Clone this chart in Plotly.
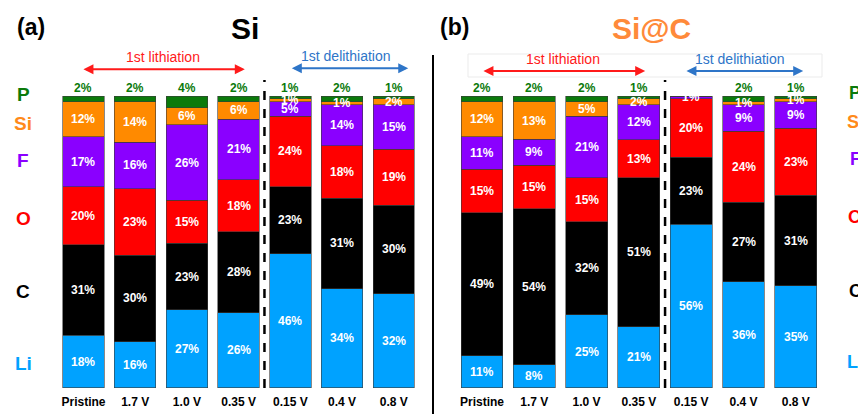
import plotly.graph_objects as go

categories = ["Pristine", "1.7 V", "1.0 V", "0.35 V", "0.15 V", "0.4 V", "0.8 V"]
elements = ["Li", "C", "O", "F", "Si", "P"]

# Panel (a) Si
si_Li = [18, 16, 27, 26, 46, 34, 32]
si_C = [31, 30, 23, 28, 23, 31, 30]
si_O = [20, 23, 15, 18, 24, 18, 19]
si_F = [17, 16, 26, 21, 5, 14, 15]
si_Si = [12, 14, 6, 6, 1, 1, 2]
si_P = [2, 2, 4, 2, 1, 2, 1]

# Panel (b) Si@C
sic_Li = [11, 8, 25, 21, 56, 36, 35]
sic_C = [49, 54, 32, 51, 23, 27, 31]
sic_O = [15, 15, 15, 13, 20, 24, 23]
sic_F = [11, 9, 21, 12, 1, 9, 9]
sic_Si = [12, 13, 5, 2, 0, 1, 1]
sic_P = [2, 2, 2, 1, 0, 2, 1]

colors = {"Li": "#00A2FF", "C": "#000000", "O": "#FF0000", "F": "#8A00FF",
          "Si": "#FF8A00", "P": "#0B7A0B"}

FONT = "Arial, Liberation Sans, sans-serif"
# page body has an 8px margin; size the figure to the visible area
OFF = 8
W, H = 866 - OFF, 414 - OFF

def px_x(p):
    return (p - OFF) / W

def px_y(p):
    return 1 - (p - OFF) / H

YMAX = 115  # headroom above 100% for the phase arrows
panels = [
    ("x", "y", [si_Li, si_C, si_O, si_F, si_Si, si_P]),
    ("x2", "y2", [sic_Li, sic_C, sic_O, sic_F, sic_Si, sic_P]),
]

fig = go.Figure()
annotations = []
for xa, ya, series in panels:
    totals = [sum(col) for col in zip(*series)]
    cum = [0.0] * len(categories)
    for el, vals in zip(elements, series):
        norm = [v / t * 100 for v, t in zip(vals, totals)]
        fig.add_trace(go.Bar(
            x=categories, y=norm, name=el, xaxis=xa, yaxis=ya,
            marker=dict(color=colors[el], line=dict(color="#3a3a3a", width=0.6)),
            width=0.8, showlegend=False, hoverinfo="skip",
        ))
        for i, (c, v, n) in enumerate(zip(categories, vals, norm)):
            if v > 0:
                if el == "P":
                    annotations.append(dict(
                        x=c, y=100, xref=xa, yref=ya, text=f"{v}%", showarrow=False,
                        xanchor="center", yanchor="bottom", yshift=-1,
                        font=dict(family=FONT, size=12, color=colors["P"], weight="bold")))
                else:
                    annotations.append(dict(
                        x=c, y=cum[i] + n / 2, xref=xa, yref=ya, text=f"{v}%", showarrow=False,
                        xanchor="center", yanchor="middle",
                        font=dict(family=FONT, size=12, color="white", weight="bold")))
            cum[i] += n

ytop_px = 388 - YMAX * (388 - 96) / 100
ydom = [px_y(388), px_y(ytop_px)]
tickfont = dict(family=FONT, size=12, color="black", weight="bold")
fig.update_layout(
    width=W, height=H, margin=dict(l=0, r=0, t=0, b=0),
    paper_bgcolor="white", plot_bgcolor="white",
    barmode="stack", bargap=0.2,
    xaxis=dict(domain=[px_x(57.6), px_x(419.6)], type="category", showgrid=False,
               zeroline=False, showline=False, ticks="", ticklabelstandoff=5,
               automargin=False, tickfont=tickfont),
    xaxis2=dict(domain=[px_x(455.8), px_x(822)], type="category", showgrid=False,
                zeroline=False, showline=False, ticks="", ticklabelstandoff=5,
                automargin=False, tickfont=tickfont),
    yaxis=dict(domain=ydom, range=[0, YMAX], visible=False, anchor="x", automargin=False),
    yaxis2=dict(domain=ydom, range=[0, YMAX], visible=False, anchor="x2", automargin=False),
)

shapes = []
for xa, ya in [("x", "y"), ("x2", "y2")]:
    shapes.append(dict(type="line", xref=xa, yref=ya, x0=3.5, x1=3.5, y0=0, y1=105.5,
                       line=dict(color="black", width=2.5, dash="dash")))
shapes.append(dict(type="line", xref="paper", yref="paper", x0=px_x(433), x1=px_x(433),
                   y0=0, y1=px_y(55), line=dict(color="black", width=2)))
shapes.append(dict(type="rect", xref="paper", yref="paper", x0=px_x(468), x1=px_x(822),
                   y0=px_y(77), y1=px_y(54), line=dict(color="#ebebeb", width=1)))
fig.update_layout(shapes=shapes)

phase = [
    ("x", "y", -0.03, 3.12, 109.2, 1.54, "1st lithiation", "#FF1A1A"),
    ("x", "y", 4.0, 6.28, 109.5, 5.08, "1st delithiation", "#2E75C8"),
    ("x2", "y2", 0.0, 3.12, 108.6, 1.55, "1st lithiation", "#FF1A1A"),
    ("x2", "y2", 3.88, 6.14, 108.6, 4.93, "1st delithiation", "#2E75C8"),
]
for xa, ya, x0, x1, yv, xt, txt, col in phase:
    annotations.append(dict(x=x1, y=yv, ax=x0, ay=yv, xref=xa, yref=ya, axref=xa, ayref=ya,
                            text="", showarrow=True, arrowhead=2, arrowside="end+start",
                            arrowsize=1, arrowwidth=2, arrowcolor=col))
    annotations.append(dict(x=xt, y=yv, xref=xa, yref=ya, text=txt, showarrow=False,
                            xanchor="center", yanchor="bottom", yshift=2,
                            font=dict(family=FONT, size=14, color=col)))

def paper_text(x, y, text, size, color, xanchor="center"):
    return dict(x=px_x(x), y=px_y(y), xref="paper", yref="paper", text=text,
                showarrow=False, xanchor=xanchor, yanchor="middle",
                font=dict(family=FONT, size=size, color=color, weight="bold"))

annotations += [
    paper_text(31, 27, "(a)", 23, "black"),
    paper_text(245, 28, "Si", 30, "black"),
    paper_text(454, 27, "(b)", 23, "black"),
    paper_text(651, 28, "Si@C", 30, "#FF8A3A"),
]

left_pos = {"P": 94.5, "Si": 123, "F": 160, "O": 218.5, "C": 291, "Li": 363}
right_pos = {"P": 92.5, "Si": 122, "F": 159, "O": 217, "C": 291, "Li": 362}
for el in elements:
    col = "#FF8A1A" if el == "Si" else colors[el]
    annotations.append(paper_text(23, left_pos[el], el, 19, col))
    annotations.append(paper_text(855, right_pos[el], el, 18, col))

fig.update_layout(annotations=annotations)
fig.write_html("out.html")
